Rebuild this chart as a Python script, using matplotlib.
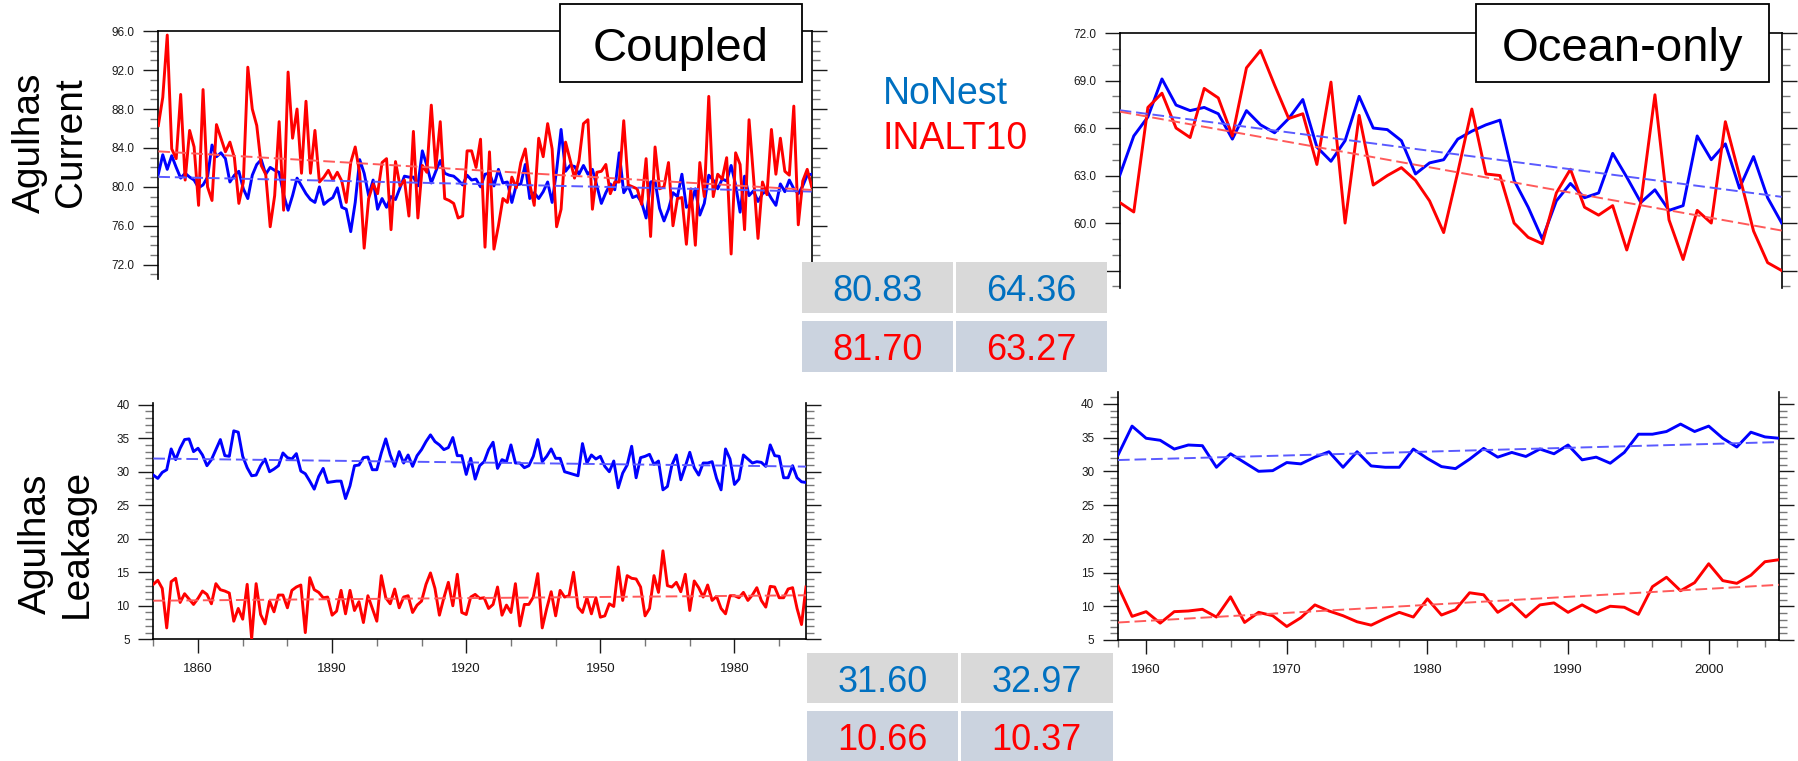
import matplotlib
matplotlib.use('Agg')
import matplotlib.pyplot as plt
import numpy as np
from matplotlib.ticker import MultipleLocator, FormatStrFormatter
from matplotlib.patches import Rectangle

W, H = 1798, 761
plt.rcParams['font.family'] = ['Liberation Sans', 'DejaVu Sans']

BLUE = '#0000ff'
RED = '#ff0000'
TXT_BLUE = '#0070c0'

# ---- data ----
years_cpl = np.arange(1850, 1997)
years_oce = np.arange(1958, 2006)

# Agulhas Current, coupled
cur_cpl_nonest = [
    81.3, 83.3, 81.8, 83.2, 82.0, 80.9, 81.4, 81.0, 80.7, 79.9,
    80.2, 81.0, 84.3, 83.1, 83.5, 82.9, 80.5, 81.2, 81.6, 79.8,
    78.8, 81.2, 82.3, 82.8, 81.3, 82.0, 81.7, 81.5, 79.2, 77.6,
    79.1, 80.9, 80.1, 79.3, 78.7, 78.4, 80.0, 78.2, 78.6, 78.9,
    79.9, 77.9, 77.7, 75.4, 78.4, 82.8, 81.4, 79.1, 80.7, 77.7,
    78.8, 77.9, 79.0, 78.7, 79.9, 81.1, 81.0, 81.0, 80.1, 83.7,
    82.2, 80.4, 81.6, 82.7, 81.4, 81.2, 81.1, 80.7, 80.2, 81.2,
    80.7, 80.8, 80.0, 81.3, 81.4, 80.1, 81.8, 80.4, 80.5, 78.4,
    80.2, 80.3, 82.3, 78.8, 79.4, 78.8, 79.5, 80.5, 78.4, 81.7,
    85.9, 81.6, 82.2, 82.1, 81.3, 82.2, 81.3, 81.8, 80.1, 78.3,
    79.4, 80.3, 79.7, 83.5, 79.4, 80.1, 78.9, 79.1, 78.4, 76.8,
    80.5, 80.6, 77.8, 76.5, 77.7, 79.4, 79.0, 81.3, 77.9, 78.2,
    79.8, 77.1, 78.3, 81.2, 80.7, 79.8, 80.8, 80.6, 82.2, 80.2,
    77.4, 81.1, 79.1, 79.6, 78.5, 79.3, 79.6, 78.8, 78.1, 80.3,
    79.5, 80.7, 79.8, 79.3, 80.1, 81.2, 81.3]
cur_cpl_inalt = [
    86.3, 89.2, 95.6, 83.9, 82.9, 89.5, 80.7, 85.8, 84.1, 78.1,
    90.0, 80.0, 78.6, 86.4, 85.0, 83.6, 84.6, 83.0, 78.3, 80.5,
    92.3, 88.0, 86.3, 82.2, 81.3, 75.9, 79.1, 86.7, 77.6, 91.8,
    85.0, 88.0, 81.4, 88.8, 81.4, 85.8, 80.5, 81.0, 81.7, 80.7,
    81.5, 80.6, 78.4, 82.5, 84.1, 81.4, 73.7, 78.8, 80.3, 79.3,
    82.5, 82.9, 75.6, 82.6, 80.1, 80.7, 77.0, 85.7, 76.8, 82.2,
    81.5, 88.4, 81.9, 86.7, 78.8, 78.6, 78.3, 76.8, 77.0, 83.7,
    83.7, 82.0, 84.9, 73.8, 83.6, 73.6, 76.0, 78.8, 78.4, 81.0,
    79.9, 82.5, 83.9, 80.3, 78.1, 85.0, 83.1, 86.5, 83.9, 75.9,
    77.7, 84.6, 82.8, 80.9, 82.7, 86.5, 86.9, 77.7, 81.5, 81.6,
    82.3, 79.3, 80.5, 80.5, 86.8, 80.2, 80.0, 79.8, 78.2, 82.9,
    74.9, 84.1, 79.8, 80.0, 82.5, 76.0, 78.8, 78.9, 74.1, 79.8,
    74.0, 82.5, 79.0, 89.3, 79.0, 81.3, 80.8, 83.0, 73.1, 83.5,
    82.3, 75.6, 86.9, 81.0, 74.7, 80.5, 79.2, 85.9, 81.3, 85.0,
    81.6, 81.2, 88.3, 76.1, 80.6, 81.8, 80.0]

# Agulhas Leakage, coupled
leak_cpl_nonest = [
    29.5, 29.0, 29.9, 30.3, 33.4, 31.8, 33.5, 34.8, 34.9, 33.0,
    33.5, 32.5, 30.9, 31.8, 33.3, 34.8, 32.4, 32.3, 36.1, 35.9,
    32.3, 30.6, 29.4, 29.5, 30.9, 31.9, 30.0, 30.4, 30.9, 32.8,
    32.1, 31.9, 32.7, 30.1, 29.7, 28.6, 27.4, 29.3, 30.5, 28.4,
    28.5, 28.6, 28.6, 26.0, 27.9, 30.9, 31.0, 32.1, 32.2, 30.3,
    30.3, 32.8, 34.9, 32.5, 30.8, 33.0, 31.3, 32.5, 30.8, 32.4,
    33.3, 34.5, 35.5, 34.5, 34.0, 33.3, 33.6, 35.1, 32.4, 32.4,
    29.6, 32.0, 28.9, 30.9, 31.5, 33.3, 34.4, 30.5, 31.8, 31.5,
    34.0, 31.3, 31.3, 30.6, 30.9, 32.3, 34.8, 31.5, 32.3, 33.4,
    32.0, 32.0, 30.0, 29.8, 29.6, 29.4, 34.2, 31.3, 32.5, 31.9,
    32.3, 30.8, 30.0, 31.6, 27.6, 29.8, 31.0, 33.8, 29.1, 32.1,
    32.3, 32.6, 31.1, 31.6, 27.3, 27.8, 31.0, 32.5, 28.8, 30.8,
    32.9, 30.6, 29.5, 31.3, 31.3, 31.5, 29.0, 27.3, 33.4, 31.9,
    28.1, 28.9, 32.5, 31.9, 31.3, 31.5, 31.4, 30.8, 34.0, 32.4,
    32.3, 29.1, 29.1, 30.9, 29.1, 28.5, 28.4]
leak_cpl_inalt = [
    13.2, 13.8, 12.6, 6.7, 13.6, 14.1, 10.5, 11.8, 11.0, 10.2,
    11.1, 12.2, 11.7, 10.3, 13.3, 12.4, 12.2, 11.9, 7.7, 9.6,
    8.0, 13.2, 5.1, 13.3, 8.7, 7.3, 10.7, 9.1, 11.6, 11.6,
    9.7, 12.3, 12.8, 13.1, 6.0, 14.2, 12.4, 12.0, 11.2, 11.3,
    8.6, 9.2, 12.3, 8.8, 12.3, 9.3, 10.6, 7.5, 11.5, 9.6,
    7.7, 14.5, 11.2, 10.3, 12.5, 9.7, 11.3, 11.5, 9.0, 10.1,
    10.7, 13.2, 14.9, 12.6, 8.6, 11.2, 13.5, 10.0, 14.7, 9.0,
    8.7, 11.3, 11.7, 11.1, 11.2, 9.6, 10.2, 12.8, 8.6, 10.1,
    9.0, 13.3, 7.0, 10.2, 10.2, 11.3, 14.8, 6.7, 9.6, 12.1,
    8.5, 12.3, 11.3, 11.5, 15.0, 9.8, 9.0, 11.2, 8.8, 11.2,
    8.3, 8.5, 10.3, 9.9, 15.8, 10.8, 14.5, 14.1, 14.0, 12.8,
    8.5, 9.6, 14.5, 12.0, 18.2, 13.0, 12.8, 13.5, 12.1, 14.7,
    9.3, 13.7, 12.7, 11.3, 13.1, 10.8, 11.4, 9.6, 8.8, 11.5,
    11.5, 11.2, 12.0, 10.8, 11.6, 12.7, 10.8, 9.8, 12.9, 12.8,
    11.2, 11.2, 12.5, 12.7, 9.6, 7.2, 12.8]

# Agulhas Current, ocean-only
cur_oce_nonest = [
    63.0, 65.5, 66.7, 69.1, 67.45, 67.1, 67.3, 66.9, 65.3, 67.1,
    66.2, 65.7, 66.6, 67.8, 64.8, 63.9, 65.2, 68.0, 66.0, 65.9,
    65.2, 63.1, 63.8, 64.0, 65.3, 65.8, 66.2, 66.5, 62.7, 61.0,
    59.0, 61.4, 62.5, 61.6, 61.9, 64.4, 62.9, 61.3, 62.1, 60.8,
    61.1, 65.5, 64.0, 65.0, 62.2, 64.2, 61.6, 60.0]
cur_oce_inalt = [
    61.3, 60.7, 67.3, 68.2, 66.0, 65.4, 68.5, 67.9, 65.5, 69.8,
    70.9, 68.7, 66.6, 66.9, 63.7, 68.9, 60.0, 66.8, 62.4, 63.0,
    63.5, 62.7, 61.4, 59.4, 63.2, 67.2, 63.1, 63.0, 60.0, 59.1,
    58.7, 61.9, 63.4, 61.0, 60.5, 61.1, 58.3, 61.3, 68.1, 60.2,
    57.7, 60.8, 60.0, 66.4, 63.0, 59.5, 57.5, 57.0]

# Agulhas Leakage, ocean-only
leak_oce_nonest = [
    32.4, 36.7, 34.9, 34.6, 33.3, 33.9, 33.8, 30.6, 32.6, 31.3,
    30.0, 30.1, 31.3, 31.1, 32.1, 32.9, 30.6, 32.9, 30.8, 30.6,
    30.6, 33.3, 31.9, 30.7, 30.4, 31.8, 33.4, 32.1, 32.8, 32.2,
    33.3, 32.6, 33.9, 31.7, 32.1, 31.2, 32.8, 35.5, 35.5, 35.9,
    37.0, 35.9, 36.7, 34.9, 33.6, 35.8, 35.1, 34.9]
leak_oce_inalt = [
    13.0, 8.5, 9.2, 7.5, 9.2, 9.3, 9.55, 8.4, 11.4, 7.6,
    9.1, 8.6, 7.0, 8.3, 10.2, 9.3, 8.6, 7.7, 7.2, 8.2,
    9.1, 8.4, 11.1, 8.7, 9.5, 12.0, 11.7, 9.1, 10.4, 8.4,
    10.2, 10.5, 9.1, 10.2, 9.1, 10.0, 9.85, 8.8, 12.9, 14.3,
    12.3, 13.5, 16.3, 13.8, 13.4, 14.6, 16.6, 16.9]

# mean tables: [coupled, ocean-only]
cur_means_nonest = ['80.83', '64.36']
cur_means_inalt = ['81.70', '63.27']
leak_means_nonest = ['31.60', '32.97']
leak_means_inalt = ['10.66', '10.37']

fig = plt.figure(figsize=(W / 100, H / 100), dpi=100)


def rect_px(l, t, r, b):
    return [l / W, 1 - b / H, (r - l) / W, (b - t) / H]


def fx(x):
    return x / W


def fy(y):
    return 1 - y / H


def panel(box, years, blue, red, ylim, ymaj, yfmt, xlim, xmaj, xmin, cut):
    ax = fig.add_axes(rect_px(*box))
    years = np.asarray(years, dtype=float)
    ax.plot(years, blue, color=BLUE, lw=2.1, zorder=3)
    ax.plot(years, red, color=RED, lw=2.1, zorder=3)
    # linear trends
    for vals, c in ((blue, '#5a5aff'), (red, '#ff5a5a')):
        k, b0 = np.polyfit(years, vals, 1)
        ax.plot(years, k * years + b0, color=c, lw=1.4, dashes=(6, 2.5),
                zorder=4)
    ax.set_xlim(*xlim)
    ax.set_ylim(*ylim)
    ax.yaxis.set_major_locator(MultipleLocator(ymaj))
    ax.yaxis.set_minor_locator(MultipleLocator(1))
    ax.yaxis.set_major_formatter(FormatStrFormatter(yfmt))
    ax.xaxis.set_major_locator(MultipleLocator(xmaj))
    ax.xaxis.set_minor_locator(MultipleLocator(xmin))
    ax.tick_params(axis='y', which='both', direction='out', left=True,
                   right=True, labelright=False, width=1.0, colors='#1a1a1a',
                   labelsize=8.5, pad=6)
    ax.tick_params(axis='y', which='major', length=11)
    ax.tick_params(axis='y', which='minor', length=5.5, color='#777777')
    for s in ax.spines.values():
        s.set_linewidth(1.2)
    ax.spines[cut].set_visible(False)
    if cut == 'bottom':
        ax.tick_params(axis='x', which='both', bottom=False, top=False,
                       labelbottom=False)
    else:
        ax.tick_params(axis='x', which='both', direction='out', bottom=True,
                       top=False, width=1.0, colors='#1a1a1a', labelsize=9.5,
                       pad=7)
        ax.tick_params(axis='x', which='major', length=10)
        ax.tick_params(axis='x', which='minor', length=5, color='#777777')
    return ax


panel((158.3, 30.7, 811.7, 279.3), years_cpl, cur_cpl_nonest, cur_cpl_inalt,
      (70.5, 96.05), 4, '%.1f', (1850, 1996), 30, 10, 'bottom')
panel((1119.7, 33, 1781.7, 288), years_oce, cur_oce_nonest, cur_oce_inalt,
      (55.9, 72.0), 3, '%.1f', (1958, 2005), 10, 2, 'bottom')
panel((153.3, 402.7, 806, 639.3), years_cpl, leak_cpl_nonest, leak_cpl_inalt,
      (5, 40.3), 5, '%d', (1850, 1996), 30, 10, 'top')
panel((1118, 391.7, 1779, 640), years_oce, leak_oce_nonest, leak_oce_inalt,
      (5, 41.8), 5, '%d', (1958, 2005), 10, 2, 'top')

# row labels
fig.text(fx(50.7), fy(142.5), 'Agulhas\nCurrent', rotation=90, ha='center',
         va='center', multialignment='center', fontsize=28, linespacing=1.17)
fig.text(fx(56.2), fy(543.5), 'Agulhas\nLeakage', rotation=90, ha='center',
         va='center', multialignment='center', fontsize=28, linespacing=1.17)

# experiment boxes
for (l, r), name in (((559.6, 801.8), 'Coupled'), ((1476, 1769), 'Ocean-only')):
    fig.add_artist(Rectangle((fx(l), fy(81.7)), (r - l) / W, (81.7 - 4) / H,
                             transform=fig.transFigure, facecolor='white',
                             edgecolor='black', lw=1.3, zorder=10))
    fig.text(fx((l + r) / 2), fy(61), name, ha='center', va='baseline',
             fontsize=34, zorder=11)

# legend text
fig.text(fx(883), fy(104.4), 'NoNest', color=TXT_BLUE, fontsize=27,
         va='baseline', ha='left')
fig.text(fx(883), fy(149), 'INALT10', color=RED, fontsize=27,
         va='baseline', ha='left')


def table(cols, rows, top_vals, bot_vals):
    for (t, b), vals, bg, tc in ((rows[0], top_vals, '#d9d9d9', TXT_BLUE),
                                 (rows[1], bot_vals, '#cbd3df', RED)):
        for (l, r), v in zip(cols, vals):
            fig.add_artist(Rectangle((fx(l), fy(b)), (r - l) / W, (b - t) / H,
                                     transform=fig.transFigure, facecolor=bg,
                                     edgecolor='none', zorder=10))
            fig.text(fx((l + r) / 2), fy(t + 39), v, color=tc, fontsize=26,
                     ha='center', va='baseline', zorder=11)


table([(801.7, 952.7), (956, 1107)], [(262.3, 313.3), (321, 372.3)],
      cur_means_nonest, cur_means_inalt)
table([(806.7, 958.3), (961, 1112.7)], [(653, 703), (711, 762)],
      leak_means_nonest, leak_means_inalt)

fig.savefig('out.png', dpi=100)
